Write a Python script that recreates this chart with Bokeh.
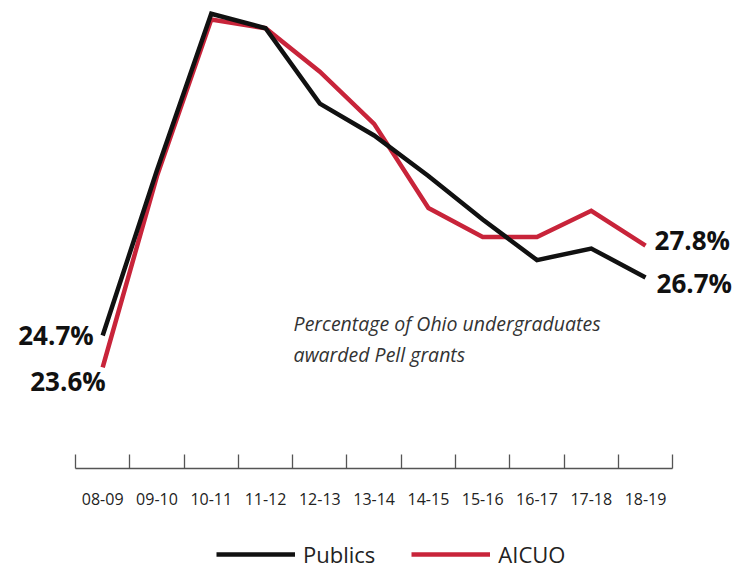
from bokeh.plotting import figure
from bokeh.layouts import column
from bokeh.models import (Range1d, LinearAxis, FixedTicker, Legend, LegendItem,
                          ColumnDataSource, Label)
from bokeh.core.properties import value
from bokeh.embed import file_html
from bokeh.resources import INLINE

# ---- data ----
years = ["08-09", "09-10", "10-11", "11-12", "12-13", "13-14",
         "14-15", "15-16", "16-17", "17-18", "18-19"]
publics = [24.7, 30.4, 35.8, 35.3, 32.7, 31.6, 30.2, 28.7, 27.3, 27.7, 26.7]
aicuo = [23.6, 30.2, 35.6, 35.3, 33.8, 32.0, 29.1, 28.1, 28.1, 29.0, 27.8]
series_names = ["Publics", "AICUO"]
note_lines = ["Percentage of Ohio undergraduates", "awarded Pell grants"]

BLACK = "#111111"
RED = "#c8243a"
FONT = "Open Sans"

xs = [i + 0.5 for i in range(len(years))]

p = figure(width=735, height=538,
           x_range=Range1d(-1.235, 12.157), y_range=Range1d(20.11, 35.98),
           x_axis_location=None, y_axis_location=None,
           output_backend="svg", toolbar_location=None,
           min_border_left=8, min_border_right=0, min_border_top=8, min_border_bottom=70)
p.outline_line_color = None
p.grid.visible = False
p.background_fill_color = "white"

r_pub = p.line(xs, publics, line_color=BLACK, line_width=4.5, line_join="miter")
r_aic = p.line(xs, aicuo, line_color=RED, line_width=4.5, line_join="miter")
p.renderers = [r_aic, r_pub]

# x axis: labels at category centres, tick marks at boundaries
ticker = FixedTicker(ticks=xs, minor_ticks=list(range(len(years) + 1)))
ax = LinearAxis(ticker=ticker, bounds=(0, len(years)))
ax.major_label_overrides = {x: y for x, y in zip(xs, years)}
ax.axis_line_color = "#555555"
ax.axis_line_width = 1.5
ax.major_tick_in = 0
ax.major_tick_out = 0
ax.minor_tick_in = 14
ax.minor_tick_out = 0
ax.minor_tick_line_color = "#555555"
ax.minor_tick_line_width = 1.3
ax.major_label_standoff = 24
ax.major_label_text_font = FONT
ax.major_label_text_font_size = "16px"
ax.major_label_text_color = "#222222"
p.add_layout(ax, "below")

# end labels
left_src = ColumnDataSource(dict(x=[xs[0], xs[0]], y=[publics[0], aicuo[0]],
                                 t=[f"{publics[0]}%", f"{aicuo[0]}%"],
                                 dx=[-9, 3], dy=[0, 14]))
p.text(x="x", y="y", text="t", x_offset="dx", y_offset="dy", source=left_src,
       text_align="right", text_baseline="middle", text_font=value(FONT),
       text_font_style="bold", text_font_size="26px", text_color=BLACK)
right_src = ColumnDataSource(dict(x=[xs[-1], xs[-1]], y=[aicuo[-1], publics[-1]],
                                  t=[f"{aicuo[-1]}%", f"{publics[-1]}%"],
                                  dx=[9, 11], dy=[-6, 6]))
p.text(x="x", y="y", text="t", x_offset="dx", y_offset="dy", source=right_src,
       text_align="left", text_baseline="middle", text_font=value(FONT),
       text_font_style="bold", text_font_size="26px", text_color=BLACK)

# note
note_x = 4.017
note_y = [25.11, 24.04]
for line, ny in zip(note_lines, note_y):
    p.add_layout(Label(x=note_x, y=ny, text=line, text_font=FONT,
                       text_font_style="italic", text_font_size="19.5px",
                       text_color="#333333", text_baseline="middle"))

# legend strip below the chart
p2 = figure(width=735, height=31, x_range=Range1d(-100, -99), y_range=Range1d(0, 1),
            x_axis_location=None, y_axis_location=None,
            output_backend="svg", toolbar_location=None,
            min_border_left=8, min_border_right=0, min_border_top=0, min_border_bottom=0)
p2.outline_line_color = None
p2.grid.visible = False
l_pub = p2.line(xs, publics, line_color=BLACK, line_width=4.5)
l_aic = p2.line(xs, aicuo, line_color=RED, line_width=4.5)

legend = Legend(items=[LegendItem(label=series_names[0], renderers=[l_pub]),
                       LegendItem(label=series_names[1], renderers=[l_aic])],
                orientation="horizontal", location=(208, 0))
legend.border_line_color = None
legend.background_fill_alpha = 0
legend.glyph_width = 79
legend.glyph_height = 22
legend.label_height = 22
legend.label_standoff = 8
legend.spacing = 36
legend.label_text_font = FONT
legend.label_text_font_size = "22px"
legend.label_text_color = "#222222"
legend.margin = 0
legend.padding = 0
p2.add_layout(legend)

layout = column(p, p2, spacing=0)
open("out.html", "w").write(file_html(layout, INLINE))
